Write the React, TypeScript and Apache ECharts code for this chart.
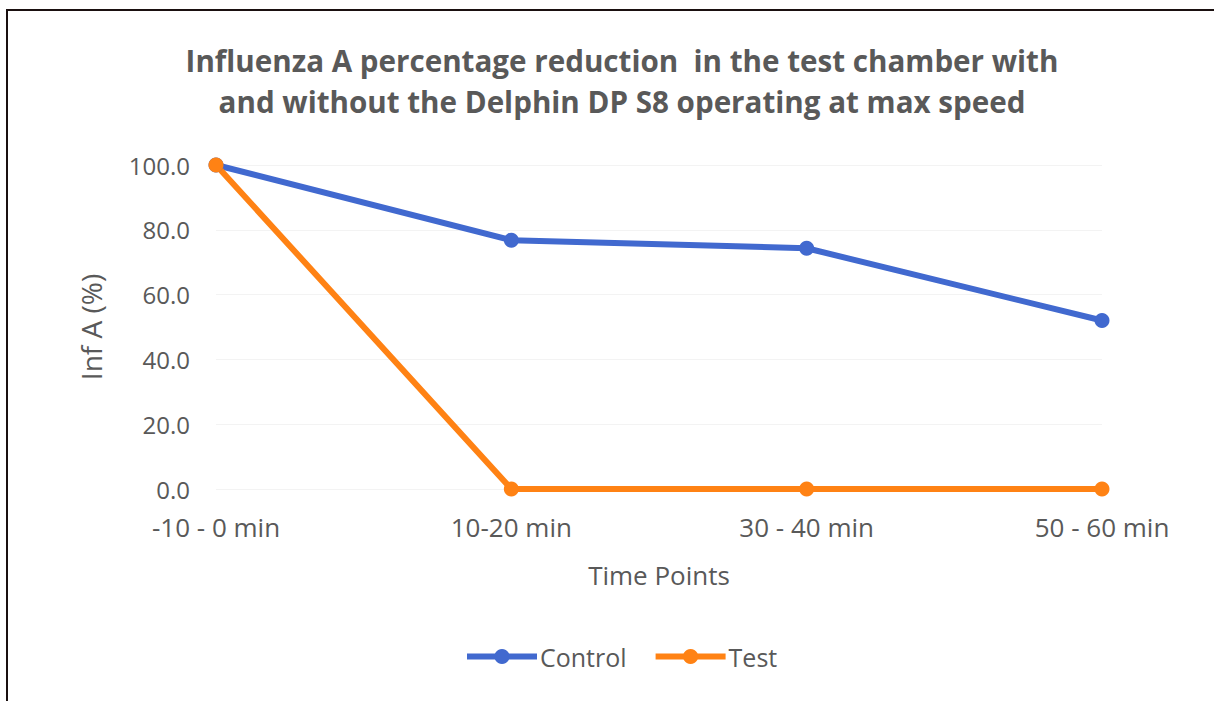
import React, { useEffect, useRef } from "react";
import * as echarts from "echarts";

const categories = ["-10 - 0 min", "10-20 min", "30 - 40 min", "50 - 60 min"];
const controlValues = [100, 76.8, 74.3, 52.0];
const testValues = [100, 0, 0, 0];
const titleText = "Influenza A percentage reduction  in the test chamber with\nand without the Delphin DP S8 operating at max speed";

export default function App() {
  const ref = useRef<HTMLDivElement>(null);
  useEffect(() => {
    if (!ref.current) return;
    const chart = echarts.init(ref.current, undefined, { renderer: "svg" });
    const font = "'Open Sans', sans-serif";
    const gray = "#595959";
    chart.setOption({
      animation: false,
      backgroundColor: "#ffffff",
      title: {
        text: titleText,
        left: 617,
        textAlign: "center",
        top: 35,
        textStyle: {
          fontFamily: font,
          fontWeight: "bold",
          fontSize: 29.6,
          lineHeight: 41,
          color: gray,
        },
      },
      legend: {
        bottom: 27,
        left: 459,
        itemWidth: 70,
        itemHeight: 19,
        itemGap: 26,
        lineStyle: { width: 6 },
        textStyle: { fontFamily: font, fontSize: 25, color: gray, padding: [0, 0, 0, -2] },
        data: ["Control", "Test"],
      },
      grid: { left: 216, right: 112, top: 165, bottom: 212 },
      xAxis: {
        type: "category",
        data: categories,
        boundaryGap: false,
        name: "Time Points",
        nameLocation: "middle",
        nameGap: 73,
        nameTextStyle: { fontFamily: font, fontSize: 26, color: gray },
        axisLine: { show: false },
        axisTick: { show: false },
        axisLabel: { fontFamily: font, fontSize: 26, color: gray, margin: 25 },
      },
      yAxis: {
        type: "value",
        min: 0,
        max: 100,
        interval: 20,
        name: "Inf A (%)",
        nameLocation: "middle",
        nameGap: 111,
        nameTextStyle: { fontFamily: font, fontSize: 28, color: gray },
        axisLine: { show: false },
        axisTick: { show: false },
        axisLabel: {
          fontFamily: font,
          fontSize: 24,
          color: gray,
          margin: 26,
          formatter: (v: number) => v.toFixed(1),
        },
        splitLine: { lineStyle: { color: "#f3f3f3", width: 1 } },
      },
      series: [
        {
          name: "Control",
          type: "line",
          data: controlValues,
          symbol: "circle",
          symbolSize: 15,
          lineStyle: { color: "#4169CF", width: 6 },
          itemStyle: { color: "#4169CF" },
        },
        {
          name: "Test",
          type: "line",
          data: testValues,
          symbol: "circle",
          symbolSize: 15,
          lineStyle: { color: "#FF8214", width: 6 },
          itemStyle: { color: "#FF8214" },
        },
      ],
      graphic: [
        { type: "line", shape: { x1: 6, y1: 10, x2: 1214, y2: 10 }, style: { stroke: "#1a1010", lineWidth: 2 } },
        { type: "line", shape: { x1: 7, y1: 10, x2: 7, y2: 701 }, style: { stroke: "#1a1010", lineWidth: 2 } },
      ],
    });
    return () => chart.dispose();
  }, []);
  return (
    <div
      ref={ref}
      style={{ position: "fixed", left: 0, top: 0, width: 1214, height: 701 }}
    />
  );
}
